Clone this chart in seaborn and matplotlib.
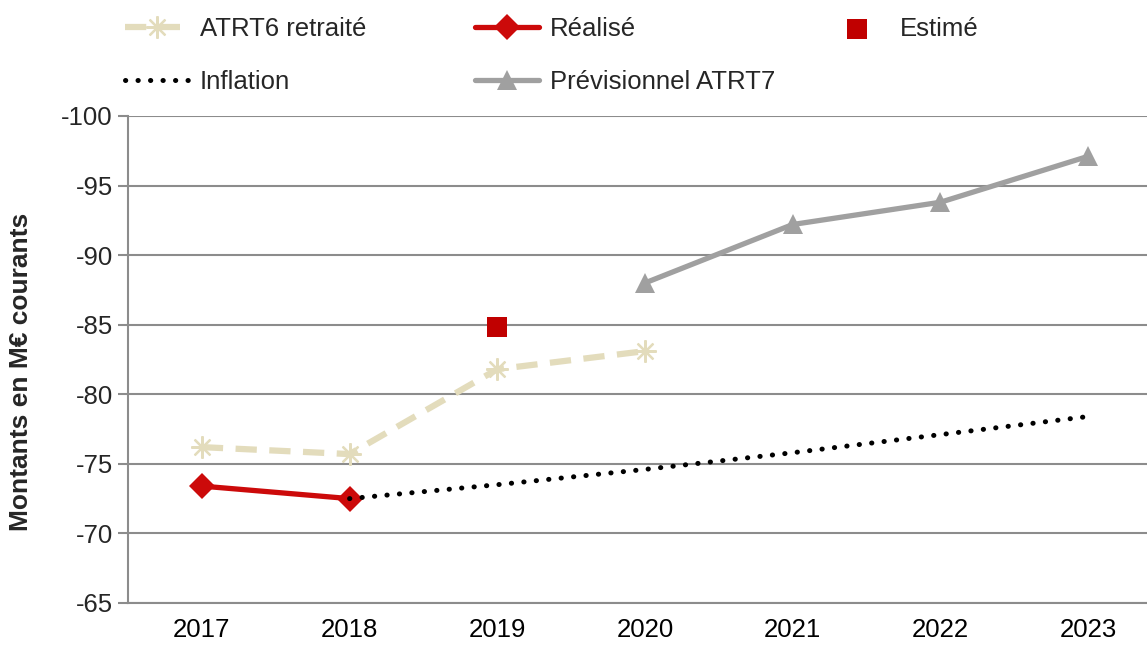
import seaborn as sns
import matplotlib.pyplot as plt
import pandas as pd

years = ["2017", "2018", "2019", "2020", "2021", "2022", "2023"]

atrt6_years = ["2017", "2018", "2019", "2020"]
atrt6_vals = [-76.2, -75.7, -81.8, -83.1]

realise_years = ["2017", "2018"]
realise_vals = [-73.4, -72.5]

estime_years = ["2019"]
estime_vals = [-84.8]

inflation_years = ["2018", "2019", "2020", "2021", "2022", "2023"]
inflation_vals = [-72.5, -73.5, -74.6, -75.8, -77.1, -78.4]

atrt7_years = ["2020", "2021", "2022", "2023"]
atrt7_vals = [-88.0, -92.2, -93.8, -97.1]

yticks = [-100, -95, -90, -85, -80, -75, -70, -65]

sns.set_style("white")
plt.rcParams["font.family"] = ["Liberation Sans", "DejaVu Sans"]
plt.rcParams["axes.unicode_minus"] = False

pos = {y: i for i, y in enumerate(years)}


def frame(yrs, vals):
    return pd.DataFrame({"x": [pos[y] for y in yrs], "y": vals})


fig = plt.figure(figsize=(11.47, 6.46), dpi=100)
ax = fig.add_axes([0.1116, 0.0666, 0.9015, 0.7539])

grid_col = "#8c8c8c"
for t in yticks:
    ax.axhline(t, color=grid_col, lw=1.5, zorder=0)

sns.lineplot(data=frame(atrt6_years, atrt6_vals), x="x", y="y", ax=ax,
             color="#e3dcbc", lw=4.5, dashes=False, linestyle=(0, (3.4, 2.0)),
             marker=(8, 2, 0), markersize=16, markeredgewidth=1.6,
             markeredgecolor="#e3dcbc", label="ATRT6 retraité", zorder=3)
sns.lineplot(data=frame(realise_years, realise_vals), x="x", y="y", ax=ax,
             color="#cc0a0a", lw=3.8, marker="D", markersize=13,
             markeredgewidth=0, label="Réalisé", zorder=4)
sns.scatterplot(data=frame(estime_years, estime_vals), x="x", y="y", ax=ax,
                color="#c00000", marker="s", s=190, linewidth=0,
                label="Estimé", zorder=4)
sns.lineplot(data=frame(inflation_years, inflation_vals), x="x", y="y", ax=ax,
             color="black", lw=3.6, linestyle=(0, (0.05, 2.45)),
             dash_capstyle="round", label="Inflation", zorder=5)
sns.lineplot(data=frame(atrt7_years, atrt7_vals), x="x", y="y", ax=ax,
             color="#a0a0a0", lw=3.8, marker="^", markersize=15,
             markeredgewidth=0, label="Prévisionnel ATRT7", zorder=3)

handles, labels = ax.get_legend_handles_labels()
ax.get_legend().remove()
hmap = dict(zip(labels, handles))

columns = [["ATRT6 retraité", "Inflation"], ["Réalisé", "Prévisionnel ATRT7"], ["Estimé"]]
xstarts = [125 / 1147, 475 / 1147, 825 / 1147]
for col, xs in zip(columns, xstarts):
    fig.legend([hmap[l] for l in col], col, loc="upper left",
               bbox_to_anchor=(xs, 0.974), frameon=False, fontsize=18.5,
               borderpad=0, borderaxespad=0, handlelength=2.5,
               handletextpad=0.4, labelspacing=1.12)

ax.set_xlim(-0.5, 6.5)
ax.set_ylim(-65, -100)
ax.set_yticks(yticks)
ax.set_yticklabels([str(t) for t in yticks])
ax.set_xticks(range(len(years)))
ax.set_xticklabels(years)
ax.set_xticks([i - 0.5 for i in range(len(years) + 1)], minor=True)
ax.tick_params(axis="x", which="major", length=0, labelsize=18.5, pad=11,
               colors="black")
ax.tick_params(axis="x", which="minor", length=7, width=1.5, color=grid_col,
               direction="out")
ax.tick_params(axis="y", length=7, width=1.5, color=grid_col, labelsize=18.5,
               pad=4, left=True, direction="out")

ax.set_xlabel("")
ax.set_ylabel("Montants en M€ courants", fontsize=19, fontweight="bold")
ax.yaxis.set_label_coords(-0.092, 0.475)

for s in ["top", "right"]:
    ax.spines[s].set_visible(False)
for s in ["left", "bottom"]:
    ax.spines[s].set_color(grid_col)
    ax.spines[s].set_linewidth(1.5)

fig.savefig("out.png", dpi=100)
